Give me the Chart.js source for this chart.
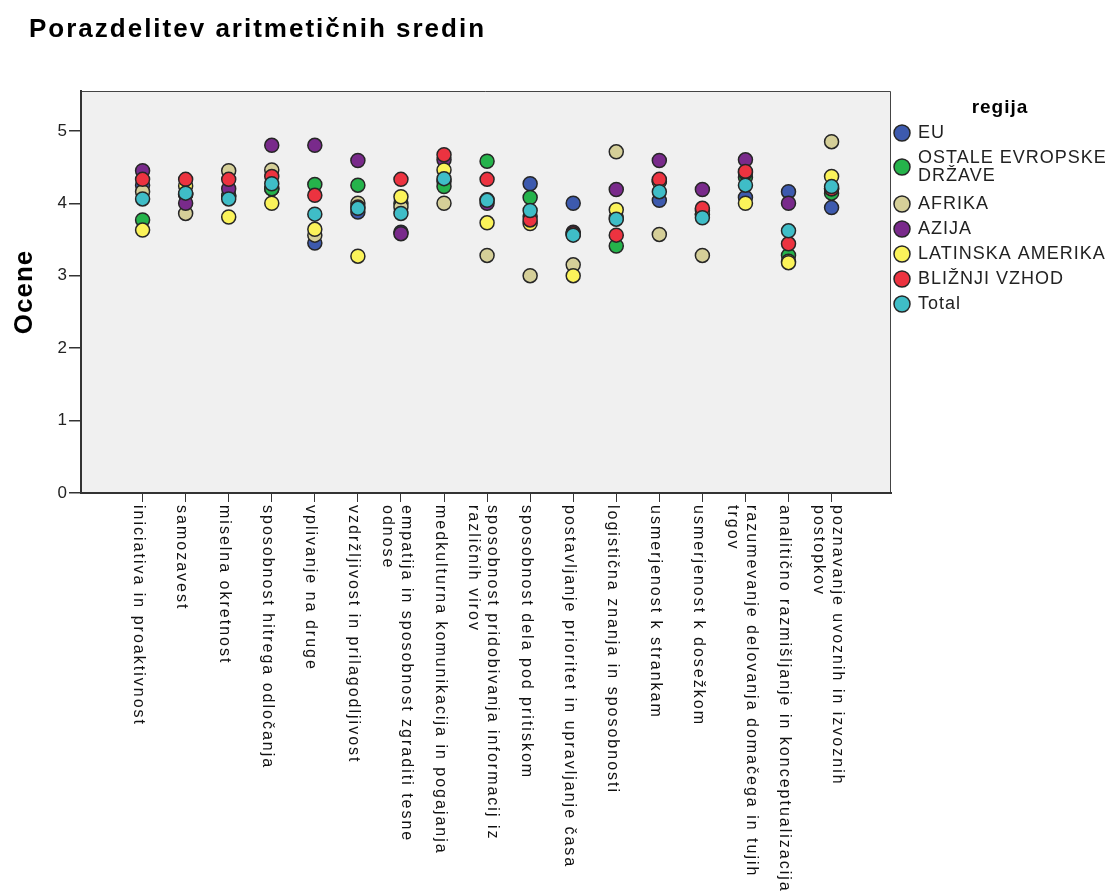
<!DOCTYPE html>
<html>
<head>
<meta charset="utf-8">
<script src="https://cdn.jsdelivr.net/npm/chart.js@4"></script>
<style>
  body { margin: 0; background: #fff; }
</style>
</head>
<body>
<canvas id="chart" width="1112" height="891"></canvas>
<script>
const categories = [
  'iniciativa in proaktivnost',
  'samozavest',
  'miselna okretnost',
  'sposobnost hitrega odločanja',
  'vplivanje na druge',
  'vzdržljivost in prilagodljivost',
  ['empatija in sposobnost zgraditi tesne', 'odnose'],
  'medkulturna komunikacija in pogajanja',
  ['sposobnost pridobivanja informacij iz', 'različnih virov'],
  'sposobnost dela pod pritiskom',
  'postavljanje prioritet in upravljanje časa',
  'logistična znanja in sposobnosti',
  'usmerjenost k strankam',
  'usmerjenost k dosežkom',
  ['razumevanje delovanja domačega in tujih', 'trgov'],
  'analitično razmišljanje in konceptualizacija',
  ['poznavanje uvoznih in izvoznih', 'postopkov']
];

const yTicks = [0, 1, 2, 3, 4, 5];

const eu      = [4.25, 4.12, 4.10, 4.20, 3.45, 3.88, 3.60, 4.30, 4.05, 4.27, 4.00, 3.80, 4.04, 3.90, 4.08, 4.16, 3.94];
const ostale  = [3.77, 4.12, 4.10, 4.20, 4.26, 4.25, 4.00, 4.23, 4.58, 4.08, 3.57, 3.41, 4.30, 3.85, 4.36, 3.28, 4.14];
const afrika  = [4.16, 3.86, 4.45, 4.46, 3.56, 4.00, 3.95, 4.00, 3.28, 3.00, 3.15, 4.71, 3.57, 3.28, 4.42, 3.20, 4.85];
const azija   = [4.45, 4.00, 4.20, 4.80, 4.80, 4.59, 3.58, 4.60, 4.00, 3.82, 3.60, 4.19, 4.59, 4.19, 4.60, 4.00, 4.20];
const latinska = [3.63, 4.24, 3.81, 4.00, 3.64, 3.27, 4.09, 4.46, 3.73, 3.72, 3.00, 3.91, 4.30, 3.85, 4.00, 3.18, 4.37];
const blizji  = [4.33, 4.33, 4.33, 4.37, 4.11, 3.95, 4.33, 4.67, 4.33, 3.77, 3.58, 3.56, 4.33, 3.93, 4.44, 3.44, 4.20];
const total   = [4.06, 4.14, 4.06, 4.27, 3.85, 3.93, 3.86, 4.34, 4.04, 3.90, 3.56, 3.78, 4.16, 3.80, 4.25, 3.62, 4.23];

const series = [
  { name: 'EU', values: eu, color: '#3d5aae' },
  { name: ['OSTALE EVROPSKE', 'DRŽAVE'], values: ostale, color: '#25b34b' },
  { name: 'AFRIKA', values: afrika, color: '#d5cf98' },
  { name: 'AZIJA', values: azija, color: '#792a8b' },
  { name: 'LATINSKA AMERIKA', values: latinska, color: '#fbf35a' },
  { name: 'BLIŽNJI VZHOD', values: blizji, color: '#ec3340' },
  { name: 'Total', values: total, color: '#3fbdc7' }
];

const font = '"Liberation Sans", Arial, sans-serif';

// later series are drawn on top (lower order = drawn last)
const datasets = series.map((s, k) => ({
  label: Array.isArray(s.name) ? s.name.join(' ') : s.name,
  data: s.values.map((v, i) => ({ x: i, y: v })),
  backgroundColor: s.color,
  borderColor: '#262626',
  borderWidth: 1.5,
  pointRadius: 7,
  pointHoverRadius: 7,
  showLine: false,
  order: series.length - k
}));

const decor = {
  id: 'decor',
  beforeDraw(chart) {
    const { ctx, chartArea: a } = chart;
    ctx.save();
    ctx.fillStyle = '#fff';
    ctx.fillRect(0, 0, chart.width, chart.height);
    ctx.fillStyle = '#f0f0f0';
    ctx.fillRect(a.left, a.top, a.right - a.left, a.bottom - a.top);
    ctx.strokeStyle = '#444';
    ctx.lineWidth = 1;
    ctx.beginPath();
    ctx.moveTo(a.left, a.top + 0.5);
    ctx.lineTo(a.right - 0.5, a.top + 0.5);
    ctx.lineTo(a.right - 0.5, a.bottom);
    ctx.stroke();
    ctx.restore();
  },
  afterDraw(chart) {
    const { ctx, chartArea: a } = chart;
    const xs = chart.scales.x;
    ctx.save();

    // title
    ctx.fillStyle = '#000';
    ctx.font = 'bold 26px ' + font;
    ctx.letterSpacing = '2px';
    ctx.textBaseline = 'alphabetic';
    ctx.textAlign = 'left';
    ctx.fillText('Porazdelitev aritmetičnih sredin', 29, 37);

    // y axis title
    ctx.save();
    ctx.translate(32, (a.top + a.bottom) / 2);
    ctx.rotate(-Math.PI / 2);
    ctx.textAlign = 'center';
    ctx.font = 'bold 26px ' + font;
    ctx.letterSpacing = '1px';
    ctx.fillText('Ocene', 0, 0);
    ctx.restore();

    // rotated category labels
    ctx.font = '16px ' + font;
    ctx.letterSpacing = '2px';
    ctx.fillStyle = '#111';
    ctx.textAlign = 'left';
    ctx.textBaseline = 'middle';
    const lh = 19;
    categories.forEach((c, i) => {
      const lines = Array.isArray(c) ? c : [c];
      const px = xs.getPixelForValue(i);
      const x0 = px - 4 + (lines.length - 1) * lh / 2;
      ctx.save();
      ctx.translate(x0, 505);
      ctx.rotate(Math.PI / 2);
      lines.forEach((t, k) => ctx.fillText(t, 0, k * lh));
      ctx.restore();
    });

    // legend
    ctx.font = 'bold 19px ' + font;
    ctx.letterSpacing = '1px';
    ctx.textAlign = 'center';
    ctx.textBaseline = 'alphabetic';
    ctx.fillStyle = '#000';
    ctx.fillText('regija', 1000, 113);

    ctx.font = '18px ' + font;
    ctx.textAlign = 'left';
    ctx.textBaseline = 'middle';
    let y = 133;
    series.forEach(s => {
      const lines = Array.isArray(s.name) ? s.name : [s.name];
      const cy = y + (lines.length - 1) * 9;
      ctx.beginPath();
      ctx.arc(902, cy, 8, 0, Math.PI * 2);
      ctx.fillStyle = s.color;
      ctx.fill();
      ctx.strokeStyle = '#262626';
      ctx.lineWidth = 1.5;
      ctx.stroke();
      ctx.fillStyle = '#222';
      lines.forEach((t, k) => ctx.fillText(t, 918, y + k * 18));
      y += 25 + (lines.length - 1) * 21;
    });
    ctx.restore();
  }
};

new Chart(document.getElementById('chart'), {
  type: 'scatter',
  data: { datasets },
  options: {
    responsive: false,
    animation: false,
    events: [],
    layout: { padding: { top: 91, right: 221, left: 0, bottom: 0 } },
    plugins: {
      legend: { display: false },
      tooltip: { enabled: false }
    },
    scales: {
      x: {
        type: 'linear',
        min: -1.43,
        max: 17.38,
        afterBuildTicks: (scale) => { scale.ticks = categories.map((c, i) => ({ value: i })); },
        afterFit: (scale) => { scale.height = 398; },
        ticks: { display: false },
        grid: { drawOnChartArea: false, tickLength: 9, tickColor: '#333', lineWidth: 1 },
        border: { color: '#333', width: 2 }
      },
      y: {
        min: 0,
        max: 5.55,
        afterBuildTicks: (scale) => { scale.ticks = yTicks.map(v => ({ value: v })); },
        afterFit: (scale) => { scale.width = 81; },
        ticks: {
          font: { family: font, size: 17 },
          color: '#222',
          padding: 2
        },
        grid: { drawOnChartArea: false, tickLength: 12, tickColor: '#333', lineWidth: 1.5 },
        border: { color: '#333', width: 2 }
      }
    }
  },
  plugins: [decor]
});
</script>
</body>
</html>
